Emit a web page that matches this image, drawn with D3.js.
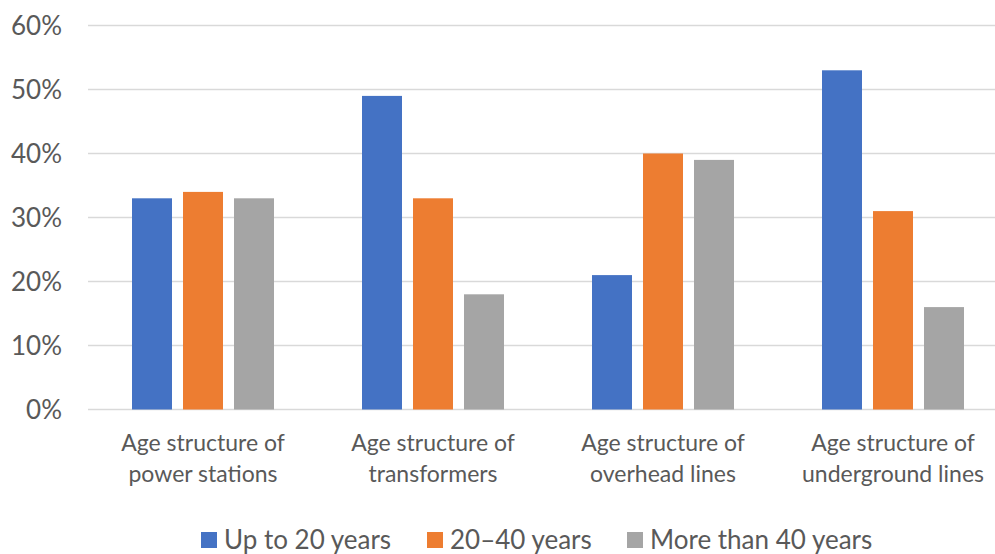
<!DOCTYPE html>
<html>
<head>
<meta charset="utf-8">
<script src="https://cdn.jsdelivr.net/npm/d3@7"></script>
<style>
  html, body { margin: 0; padding: 0; background: #fff; }
  svg { display: block; }
  text { font-family: Lato, "Open Sans", sans-serif; fill: #595959; }
</style>
</head>
<body>
<svg id="chart" width="995" height="554"></svg>
<script>
// Asset categories (two-line labels)
const categories = [
  ["Age structure of", "power stations"],
  ["Age structure of", "transformers"],
  ["Age structure of", "overhead lines"],
  ["Age structure of", "underground lines"]
];
const seriesNames = ["Up to 20 years", "20–40 years", "More than 40 years"];
const seriesColors = ["#4472C4", "#ED7D31", "#A5A5A5"];
// Share of assets per age bracket, percent
const upTo20 = [33, 49, 21, 53];
const from20to40 = [34, 33, 40, 31];
const over40 = [33, 18, 39, 16];
const yTicks = [0, 10, 20, 30, 40, 50, 60];

const series = [upTo20, from20to40, over40];
const svg = d3.select("#chart");

const margin = { left: 88, top: 25.5, bottom: 409.5 };
const plotRight = 1008;

const x0 = d3.scaleBand()
  .domain(d3.range(categories.length))
  .range([margin.left, plotRight])
  .paddingInner(0)
  .paddingOuter(0);

const groupWidth = 142;
const x1 = d3.scaleBand()
  .domain(d3.range(series.length))
  .range([0, groupWidth])
  .paddingInner(11 / 51)
  .paddingOuter(0);

const y = d3.scaleLinear().domain([0, 60]).range([margin.bottom, margin.top]);

// Gridlines
svg.append("g")
  .selectAll("line")
  .data(yTicks)
  .join("line")
  .attr("x1", margin.left)
  .attr("x2", plotRight)
  .attr("y1", d => y(d))
  .attr("y2", d => y(d))
  .attr("stroke", "#D9D9D9")
  .attr("stroke-width", 1.4);

// Y axis labels
const yAxis = d3.axisLeft(y)
  .tickValues(yTicks)
  .tickFormat(d => d + "%")
  .tickSize(0)
  .tickPadding(26);
const yg = svg.append("g")
  .attr("transform", `translate(${margin.left},0)`)
  .call(yAxis);
yg.select(".domain").remove();
yg.selectAll("text")
  .attr("font-size", 26)
  .attr("font-family", "Lato, 'Open Sans', sans-serif")
  .attr("fill", "#595959")
  .attr("dy", "0.35em");

// Bars
const groups = svg.append("g")
  .selectAll("g")
  .data(categories.map((c, i) => i))
  .join("g")
  .attr("transform", i => `translate(${x0(i) + (x0.bandwidth() - groupWidth) / 2},0)`);

groups.selectAll("rect")
  .data(i => series.map((s, k) => ({ k, v: s[i] })))
  .join("rect")
  .attr("x", d => x1(d.k))
  .attr("width", x1.bandwidth())
  .attr("y", d => y(d.v))
  .attr("height", d => y(0) - y(d.v))
  .attr("fill", d => seriesColors[d.k]);

// Category labels
const catLabels = svg.append("g")
  .selectAll("text")
  .data(categories)
  .join("text")
  .attr("text-anchor", "middle")
  .attr("font-size", 23)
  .attr("transform", (d, i) => `translate(${x0(i) + x0.bandwidth() / 2},0)`);
catLabels.selectAll("tspan")
  .data(d => d)
  .join("tspan")
  .attr("x", 0)
  .attr("y", (d, j) => 451 + j * 31)
  .text(d => d);

// Legend
const legendX = [201, 427, 627];
const legend = svg.append("g")
  .selectAll("g")
  .data(seriesNames)
  .join("g")
  .attr("transform", (d, i) => `translate(${legendX[i]},532)`);
legend.append("rect")
  .attr("width", 16)
  .attr("height", 16)
  .attr("fill", (d, i) => seriesColors[i]);
legend.append("text")
  .attr("x", 23)
  .attr("y", 17)
  .attr("font-size", 26)
  .text(d => d);
</script>
</body>
</html>
